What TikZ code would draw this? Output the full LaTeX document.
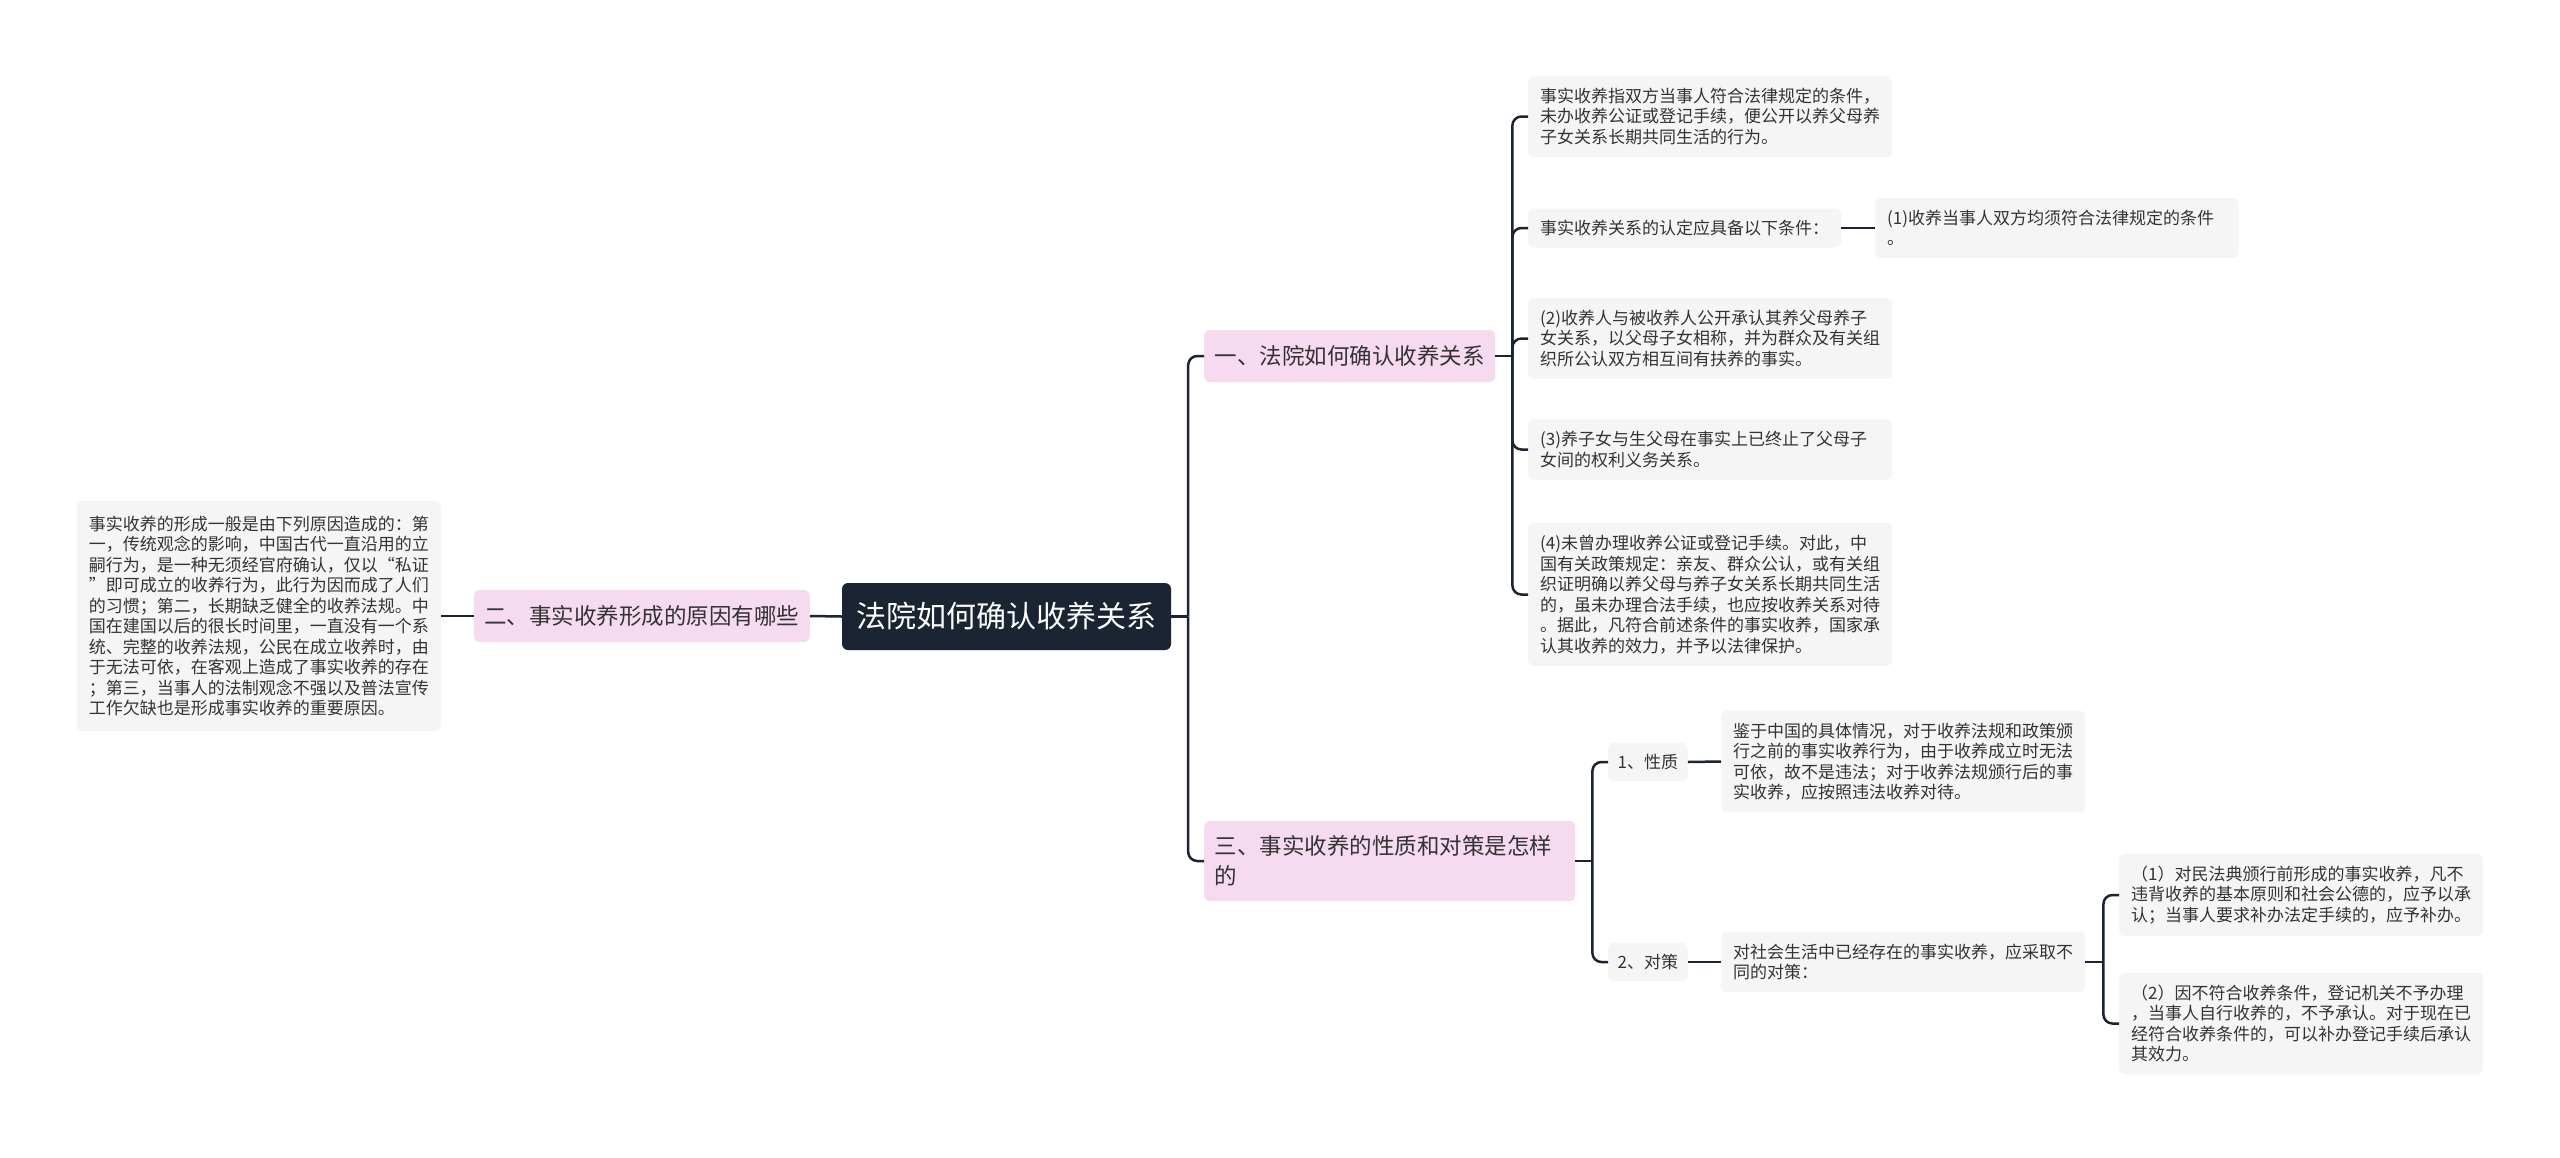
\documentclass[tikz,border=0pt]{standalone}
\usepackage{fontspec}
\setmainfont{Noto Sans CJK SC}

\definecolor{rootfill}{HTML}{1B2433}
\definecolor{topicfill}{HTML}{F6DBF0}
\definecolor{leaffill}{HTML}{F5F5F5}
\definecolor{linkcol}{HTML}{1B2433}
\definecolor{textcol}{HTML}{333333}

\tikzset{
  rootbox/.style={fill=rootfill, text=white, rounded corners=6pt, inner sep=0pt,
    minimum width=329pt, minimum height=67pt, font=\fontsize{30}{36}\selectfont},
  topicbox/.style={fill=topicfill, text=textcol, rounded corners=6pt, inner xsep=10.5pt,
    inner ysep=0pt, minimum height=52pt, font=\fontsize{22.5}{30}\selectfont},
  leafbox/.style={fill=leaffill, text=textcol, rounded corners=6pt, inner xsep=12pt,
    inner ysep=12pt, text width=340pt, align=left, font=\fontsize{17}{20.5}\selectfont},
  tagbox/.style={fill=leaffill, text=textcol, rounded corners=6pt, inner xsep=9.5pt,
    inner ysep=0pt, minimum height=38pt, font=\fontsize{17}{20.5}\selectfont},
  link/.style={draw=linkcol, line width=2.5pt, rounded corners=9pt},
}

\begin{document}
\begin{tikzpicture}[x=1pt,y=-1pt]
\fill[white] (0,0) rectangle (2560,1157);
\useasboundingbox (0,0) rectangle (2560,1157);

% centre
\node[rootbox] (root) at (1006.5,616.5) {法院如何确认收养关系};

% topics
\node[topicbox, anchor=west] (t1) at (1204,356) {一、法院如何确认收养关系};
\node[topicbox, anchor=east] (t2) at (810,616) {二、事实收养形成的原因有哪些};
\node[topicbox, anchor=west, text width=350pt, align=left, inner ysep=10pt, minimum height=80pt] (t3) at (1204,861) {三、事实收养的性质和对策是怎样\\的};

% first topic
\node[leafbox, anchor=west] (a1) at (1528,116.5) {事实收养指双方当事人符合法律规定的条件，\\未办收养公证或登记手续，便公开以养父母养\\子女关系长期共同生活的行为。};
\node[leafbox, anchor=west, text width=289pt, inner ysep=0pt, minimum height=39pt] (a2) at (1528,228) {事实收养关系的认定应具备以下条件：};
\node[leafbox, anchor=west] (a2b) at (1875,228) {(1)收养当事人双方均须符合法律规定的条件\\。};
\node[leafbox, anchor=west] (a3) at (1528,338.5) {(2)收养人与被收养人公开承认其养父母养子\\女关系，以父母子女相称，并为群众及有关组\\织所公认双方相互间有扶养的事实。};
\node[leafbox, anchor=west] (a4) at (1528,449.5) {(3)养子女与生父母在事实上已终止了父母子\\女间的权利义务关系。};
\node[leafbox, anchor=west] (a5) at (1528,594.5) {(4)未曾办理收养公证或登记手续。对此，中\\国有关政策规定：亲友、群众公认，或有关组\\织证明确以养父母与养子女关系长期共同生活\\的，虽未办理合法手续，也应按收养关系对待\\。据此，凡符合前述条件的事实收养，国家承\\认其收养的效力，并予以法律保护。};

% second topic
\node[leafbox, anchor=east, inner ysep=15pt] (b1) at (441,616) {事实收养的形成一般是由下列原因造成的：第\\一，传统观念的影响，中国古代一直沿用的立\\嗣行为，是一种无须经官府确认，仅以“私证\\”即可成立的收养行为，此行为因而成了人们\\的习惯；第二，长期缺乏健全的收养法规。中\\国在建国以后的很长时间里，一直没有一个系\\统、完整的收养法规，公民在成立收养时，由\\于无法可依，在客观上造成了事实收养的存在\\；第三，当事人的法制观念不强以及普法宣传\\工作欠缺也是形成事实收养的重要原因。};

% third topic
\node[tagbox, anchor=west] (c1) at (1608,762) {1、性质};
\node[tagbox, anchor=west] (c2) at (1608,962) {2、对策};
\node[leafbox, anchor=west] (c1t) at (1721,761.5) {鉴于中国的具体情况，对于收养法规和政策颁\\行之前的事实收养行为，由于收养成立时无法\\可依，故不是违法；对于收养法规颁行后的事\\实收养，应按照违法收养对待。};
\node[leafbox, anchor=west] (c2t) at (1721,962) {对社会生活中已经存在的事实收养，应采取不\\同的对策：};
\node[leafbox, anchor=west] (d1) at (2119,895) {（1）对民法典颁行前形成的事实收养，凡不\\违背收养的基本原则和社会公德的，应予以承\\认；当事人要求补办法定手续的，应予补办。};
\node[leafbox, anchor=west] (d2) at (2119,1023.5) {（2）因不符合收养条件，登记机关不予办理\\，当事人自行收养的，不予承认。对于现在已\\经符合收养条件的，可以补办登记手续后承认\\其效力。};

% connectors
\coordinate (j0) at ([xshift=17pt]root.east);
\draw[link] (root.east) -- (j0);
\foreach \n in {t1,t3} \draw[link] (j0) |- (\n.west);
\draw[link] (root.west) -- (t2.east);
\draw[link] (t2.west) -- (b1.east);

\coordinate (j1) at ([xshift=17pt]t1.east);
\draw[link] (t1.east) -- (j1);
\foreach \n in {a1,a2,a3,a4,a5} \draw[link] (j1) |- (\n.west);
\draw[link] (a2.east) -- (a2b.west);

\coordinate (j3) at ([xshift=17pt]t3.east);
\draw[link] (t3.east) -- (j3);
\foreach \n in {c1,c2} \draw[link] (j3) |- (\n.west);
\draw[link] (c1.east) -- (c1t.west);
\draw[link] (c2.east) -- (c2t.west);

\coordinate (j4) at ([xshift=18pt]c2t.east);
\draw[link] (c2t.east) -- (j4);
\foreach \n in {d1,d2} \draw[link] (j4) |- (\n.west);

\end{tikzpicture}
\end{document}
